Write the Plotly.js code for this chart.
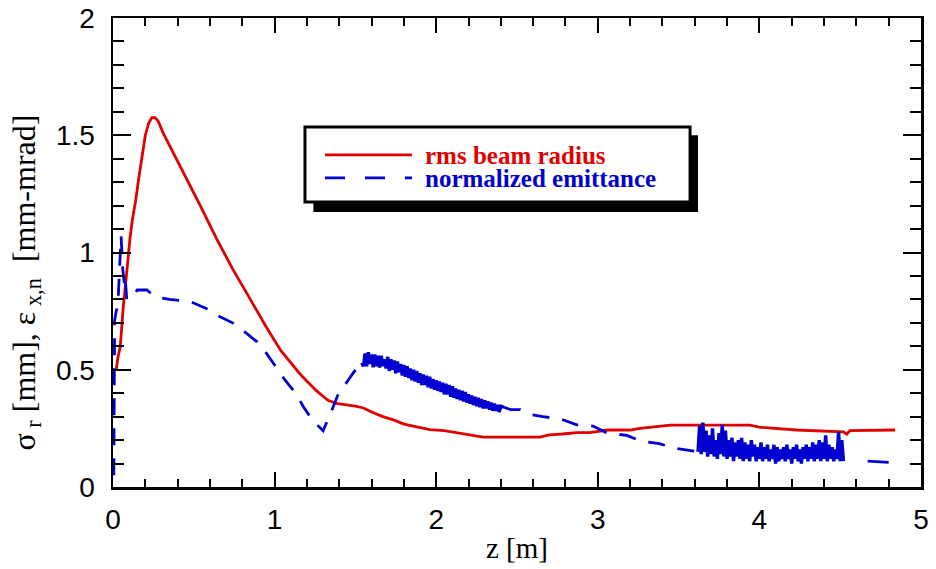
<!DOCTYPE html>
<html>
<head>
<meta charset="utf-8">
<script src="https://cdn.plot.ly/plotly-3.0.1.min.js"></script>
<style>html,body{margin:0;padding:0;background:#fff;}#plot{width:936px;height:569px;}</style>
</head>
<body>
<div id="plot"></div>
<script>
// rms beam radius
const radiusZ = [0.02,0.03,0.045,0.055,0.065,0.08,0.095,0.105,0.12,0.14,0.16,0.18,0.2,0.22,0.24,0.26,0.28,0.31,0.43,0.54,0.64,0.74,0.85,0.95,1.04,1.16,1.26,1.33,1.39,1.5,1.55,1.6,1.67,1.74,1.8,1.9,1.96,2.05,2.13,2.29,2.64,2.7,2.78,2.87,2.95,3.06,3.2,3.26,3.45,3.94,4.0,4.23,4.52,4.54,4.56,4.84];
const radiusY = [0.5,0.55,0.6,0.7,0.78,0.88,1.0,1.06,1.14,1.22,1.32,1.41,1.5,1.55,1.575,1.575,1.56,1.51,1.35,1.2,1.06,0.93,0.8,0.68,0.58,0.48,0.41,0.37,0.355,0.345,0.337,0.32,0.3,0.285,0.268,0.255,0.245,0.24,0.232,0.213,0.213,0.222,0.226,0.232,0.232,0.243,0.243,0.25,0.264,0.264,0.255,0.243,0.235,0.225,0.24,0.243];

// normalized emittance, smooth (dashed) part 1
const emitZ1 = [0.005,0.01,0.02,0.03,0.05,0.06,0.07,0.075,0.085,0.1,0.12,0.15,0.21,0.26,0.35,0.48,0.58,0.65,0.74,0.8,0.89,0.95,1.01,1.06,1.13,1.18,1.24,1.28,1.3,1.35,1.39,1.45,1.49,1.54];
const emitY1 = [0.05,0.71,0.75,0.77,1.07,0.93,0.87,0.9,0.8,0.8,0.81,0.84,0.84,0.81,0.8,0.79,0.76,0.73,0.7,0.67,0.62,0.57,0.51,0.46,0.4,0.34,0.28,0.256,0.24,0.32,0.39,0.45,0.49,0.53];

// normalized emittance, noisy part 1
const emitZ2 = [1.54,1.55,1.56,1.57,1.58,1.59,1.60,1.61,1.62,1.63,1.64,1.65,1.66,1.67,1.68,1.69,1.70,1.71,1.72,1.73,1.74,1.75,1.76,1.77,1.78,1.79,1.80,1.81,1.82,1.83,1.84,1.85,1.86,1.87,1.88,1.89,1.90,1.91,1.92,1.93,1.94,1.95,1.96,1.97,1.98,1.99,2.00,2.01,2.02,2.03,2.04,2.05,2.06,2.07,2.08,2.09,2.10,2.11,2.12,2.13,2.14,2.15,2.16,2.17,2.18,2.19,2.20,2.21,2.22,2.23,2.24,2.25,2.26,2.27,2.28,2.29,2.30,2.31,2.32,2.33,2.34,2.35,2.36,2.37,2.38,2.39,2.40,2.42];
const emitY2 = [0.53,0.515,0.57,0.515,0.575,0.525,0.565,0.51,0.565,0.515,0.56,0.51,0.56,0.515,0.545,0.505,0.555,0.495,0.545,0.5,0.54,0.485,0.535,0.49,0.525,0.475,0.52,0.47,0.515,0.465,0.505,0.455,0.5,0.45,0.495,0.445,0.485,0.435,0.48,0.435,0.475,0.425,0.47,0.42,0.46,0.415,0.455,0.41,0.45,0.405,0.445,0.395,0.44,0.395,0.435,0.385,0.43,0.38,0.42,0.375,0.415,0.37,0.41,0.365,0.405,0.36,0.395,0.355,0.39,0.35,0.385,0.345,0.38,0.34,0.375,0.335,0.37,0.335,0.365,0.33,0.36,0.325,0.355,0.325,0.35,0.32,0.345,0.34];

// normalized emittance, smooth (dashed) part 2
const emitZ3 = [2.42,2.46,2.52,2.58,2.66,2.77,2.87,2.97,3.06,3.18,3.27,3.38,3.48,3.59,3.62];
const emitY3 = [0.34,0.33,0.33,0.31,0.30,0.29,0.265,0.26,0.23,0.22,0.195,0.185,0.165,0.155,0.15];

// normalized emittance, noisy part 2
const emitZ4 = [3.62,3.63,3.64,3.65,3.66,3.67,3.68,3.69,3.70,3.71,3.72,3.73,3.74,3.75,3.76,3.77,3.78,3.79,3.80,3.81,3.82,3.83,3.84,3.85,3.86,3.87,3.88,3.89,3.90,3.91,3.92,3.93,3.94,3.95,3.96,3.97,3.98,3.99,4.00,4.01,4.02,4.03,4.04,4.05,4.06,4.07,4.08,4.09,4.10,4.11,4.12,4.13,4.14,4.15,4.16,4.17,4.18,4.19,4.20,4.21,4.22,4.23,4.24,4.25,4.26,4.27,4.28,4.29,4.30,4.31,4.32,4.33,4.34,4.35,4.36,4.37,4.38,4.39,4.40,4.41,4.42,4.43,4.44,4.45,4.46,4.47,4.48,4.49,4.50,4.51,4.52];
const emitY4 = [0.15,0.26,0.14,0.275,0.15,0.24,0.13,0.22,0.14,0.25,0.13,0.20,0.12,0.23,0.14,0.265,0.13,0.24,0.12,0.20,0.13,0.21,0.11,0.19,0.13,0.20,0.12,0.21,0.11,0.19,0.12,0.18,0.11,0.20,0.13,0.18,0.11,0.17,0.12,0.19,0.11,0.17,0.12,0.18,0.11,0.16,0.12,0.18,0.10,0.17,0.11,0.16,0.12,0.17,0.11,0.18,0.12,0.16,0.10,0.17,0.12,0.18,0.11,0.16,0.10,0.17,0.12,0.18,0.11,0.17,0.12,0.19,0.11,0.18,0.12,0.20,0.11,0.19,0.12,0.22,0.11,0.18,0.12,0.17,0.11,0.16,0.12,0.235,0.11,0.20,0.11];

// normalized emittance, tail
const emitZ5 = [4.67,4.80];
const emitY5 = [0.11,0.105];

const xTickVals = [0,1,2,3,4,5];
const xTickText = ['0','1','2','3','4','5'];
const yTickVals = [0,0.5,1,1.5,2];
const yTickText = ['0','0.5','1','1.5','2'];

const RED = '#e00000';
const BLUE = '#0000d0';
const DASH = '17px,13px';

const traces = [
  {x: radiusZ, y: radiusY, mode:'lines', line:{color:RED, width:2.8}, showlegend:false},
  {x: emitZ1, y: emitY1, mode:'lines', line:{color:BLUE, width:2.8, dash:DASH}, showlegend:false},
  {x: emitZ2, y: emitY2, mode:'lines', line:{color:BLUE, width:3.4}, showlegend:false},
  {x: emitZ3, y: emitY3, mode:'lines', line:{color:BLUE, width:2.8, dash:DASH}, showlegend:false},
  {x: emitZ4, y: emitY4, mode:'lines', line:{color:BLUE, width:3.4}, showlegend:false},
  {x: emitZ5, y: emitY5, mode:'lines', line:{color:BLUE, width:2.8}, showlegend:false}
];

const tickFont = {family:'Liberation Sans, Arial, sans-serif', size:28, color:'#000'};
const serif = 'Liberation Serif, Times New Roman, serif';

const layout = {
  width:936, height:569,
  margin:{l:113, r:15, t:18, b:82},
  paper_bgcolor:'#fff', plot_bgcolor:'#fff',
  xaxis:{
    range:[0,5], tickvals:xTickVals, ticktext:xTickText,
    ticks:'inside', ticklen:15, tickwidth:2, tickcolor:'#000',
    minor:{dtick:0.2, ticks:'inside', ticklen:8, tickwidth:2, tickcolor:'#000'},
    showline:true, linewidth:2.5, linecolor:'#000', mirror:'allticks',
    showgrid:false, zeroline:false, tickfont:tickFont, ticklabelstandoff:6,
    title:{text:'z [m]', font:{family:serif, size:29, color:'#000'}, standoff:4}
  },
  yaxis:{
    range:[0,2], tickvals:yTickVals, ticktext:yTickText,
    ticks:'inside', ticklen:18, tickwidth:2, tickcolor:'#000',
    minor:{dtick:0.1, ticks:'inside', ticklen:11, tickwidth:2, tickcolor:'#000'},
    showline:true, linewidth:2.5, linecolor:'#000', mirror:'allticks',
    showgrid:false, zeroline:false, tickfont:tickFont, ticklabelstandoff:10
  },
  shapes:[
    {type:'rect', xref:'x', yref:'y', x0:1.24, x1:3.62, y0:1.173, y1:1.50, fillcolor:'#000', line:{width:0}, layer:'above'},
    {type:'rect', xref:'x', yref:'y', x0:1.188, x1:3.571, y0:1.215, y1:1.535, fillcolor:'#fff', line:{color:'#000', width:3}, layer:'above'},
    {type:'line', xref:'x', yref:'y', x0:1.312, x1:1.85, y0:1.416, y1:1.416, line:{color:RED, width:2.8}, layer:'above'},
    {type:'line', xref:'x', yref:'y', x0:1.312, x1:1.85, y0:1.318, y1:1.318, line:{color:BLUE, width:2.8, dash:'20px,20px'}, layer:'above'}
  ],
  annotations:[
    {xref:'x', yref:'y', x:1.918, y:1.416, xanchor:'left', yanchor:'middle', showarrow:false, height:22,
     text:'<b>rms beam radius</b>', font:{family:serif, size:25, color:RED}},
    {xref:'x', yref:'y', x:1.918, y:1.318, xanchor:'left', yanchor:'middle', showarrow:false, height:22,
     text:'<b>normalized emittance</b>', font:{family:serif, size:25, color:BLUE}},
    {xref:'paper', yref:'y', x:-0.107, y:0.87, xanchor:'center', yanchor:'middle', showarrow:false, textangle:-90,
     text:'σ<sub> r</sub> [mm], ε<sub> x,n</sub>  [mm-mrad]', font:{family:serif, size:32, color:'#000'}}
  ]
};

Plotly.newPlot('plot', traces, layout, {displayModeBar:false, staticPlot:true});
</script>
</body>
</html>
